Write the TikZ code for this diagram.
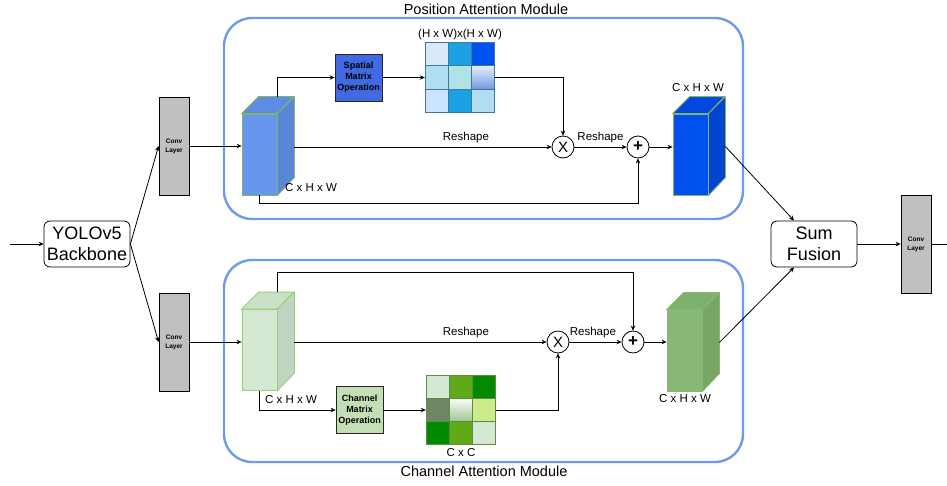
\documentclass[tikz,border=0pt]{standalone}
\usepackage{fontspec}
\setmainfont{Liberation Sans}
\usetikzlibrary{arrows.meta,calc}

\definecolor{modblue}{RGB}{110,155,240}
\definecolor{convgray}{RGB}{192,192,192}
% blue cuboids
\definecolor{cubAfront}{RGB}{102,150,238}
\definecolor{cubAside}{RGB}{90,134,216}
\definecolor{cubAtop}{RGB}{94,140,226}
\definecolor{cubBfront}{RGB}{0,80,239}
\definecolor{cubBside}{RGB}{0,68,208}
\definecolor{cubBtop}{RGB}{0,72,222}
\definecolor{edgegreen}{RGB}{130,179,102}
% green cuboids
\definecolor{cubCfront}{RGB}{213,232,212}
\definecolor{cubCside}{RGB}{192,213,191}
\definecolor{cubCtop}{RGB}{202,224,200}
\definecolor{cubCedge}{RGB}{151,208,119}
\definecolor{cubDfront}{RGB}{136,184,117}
\definecolor{cubDside}{RGB}{119,166,102}
\definecolor{cubDtop}{RGB}{126,176,110}
% operation boxes
\definecolor{spatfill}{RGB}{65,105,225}
\definecolor{chanfill}{RGB}{196,222,182}
% matrix cells
\definecolor{mA1}{RGB}{218,232,252}
\definecolor{mA2}{RGB}{27,161,226}
\definecolor{mA3}{RGB}{0,80,239}
\definecolor{mA4}{RGB}{177,221,240}
\definecolor{mA5}{RGB}{176,227,230}
\definecolor{mA7}{RGB}{204,229,255}
\definecolor{mAedge}{RGB}{60,120,160}
\definecolor{mC1}{RGB}{213,232,212}
\definecolor{mC2}{RGB}{96,169,23}
\definecolor{mC3}{RGB}{0,138,0}
\definecolor{mC4}{RGB}{109,135,100}
\definecolor{mC6}{RGB}{205,235,139}
\definecolor{mCedge}{RGB}{90,140,70}

% a cuboid: front face as a named node, top and side faces behind it
\newcommand{\cuboidbox}[6]{%
  \node[draw=#6, fill=#3, minimum width=35pt, minimum height=81pt,
        inner sep=0pt, line width=0.8pt] (#1) at #2 {};
  \filldraw[draw=#6, fill=#5, line width=0.8pt]
    (#1.north west) -- ++(17,-17) -- ++(35,0) -- (#1.north east) -- cycle;
  \filldraw[draw=#6, fill=#4, line width=0.8pt]
    (#1.north east) -- ++(17,-17) -- ++(0,81) -- (#1.south east) -- cycle;
  \coordinate (#1-top) at ($(#1.north east)+(0,-17)$);
  \coordinate (#1-r) at ($(#1.east)+(17,-8)$);
}

\begin{document}
\begin{tikzpicture}[x=1pt, y=-1pt,
  font=\fontsize{11.5}{13}\selectfont,
  arr/.style={-{Stealth[length=5pt,width=4.5pt]}, line width=0.8pt},
  ln/.style={line width=0.8pt},
  module/.style={draw=modblue, line width=2.4pt, rounded corners=28pt},
  conv/.style={draw=black, fill=convgray, line width=0.8pt, minimum width=30pt,
    minimum height=98pt, inner sep=0pt, align=center,
    font=\fontsize{6.5}{9}\selectfont\bfseries},
  bigbox/.style={draw=black, rounded corners=6pt, line width=0.8pt, fill=white,
    minimum width=86pt, minimum height=46pt, inner sep=0pt, align=center,
    font=\fontsize{18}{21}\selectfont},
  opbox/.style={draw=black!85, line width=0.8pt, minimum width=47pt,
    minimum height=47pt, inner sep=0pt, align=center,
    font=\fontsize{9}{11}\selectfont\bfseries},
  opcirc/.style={circle, draw=black, fill=white, line width=0.8pt,
    minimum size=22pt, inner sep=0pt, font=\fontsize{15}{15}\selectfont},
  matbox/.style={minimum width=70pt, minimum height=70pt, inner sep=0pt},
  title/.style={font=\fontsize{14.5}{16}\selectfont},
  lbl/.style={above=0.5pt},
]
\useasboundingbox (0,0) rectangle (947,485);

% attention modules
\draw[module] (224,18) rectangle (743,219);
\draw[module] (224,260) rectangle (743,462);
\node[title] (ptitle) at (486,9) {Position Attention Module};
\node[title] (ctitle) at (484,471) {Channel Attention Module};

% backbone and conv layers
\node[bigbox] (bb) at (87,244) {YOLOv5\\Backbone};
\node[conv] (conv1) at (174,146) {Conv\\Layer};
\node[conv] (conv2) at (174,342) {Conv\\Layer};
\node[bigbox] (sum) at (814,244) {Sum\\Fusion};
\node[conv] (conv3) at (916,244) {Conv\\Layer};
\coordinate (inp) at (10,244);
\coordinate (outp) at (947,244);

% position attention branch
\cuboidbox{cubA}{(259.5,154.5)}{cubAfront}{cubAside}{cubAtop}{edgegreen}
\cuboidbox{cubB}{(690.5,154.5)}{cubBfront}{cubBside}{cubBtop}{edgegreen}
\node[opbox, fill=spatfill] (spat) at (358.5,77.5) {Spatial\\Matrix\\Operation};
\node[matbox] (matA) at (460,77.5) {};
\node[opcirc] (mulA) at (563,147) {X};
\node[opcirc, font=\fontsize{17}{17}\selectfont\bfseries] (addA) at (638,147) {+};

% channel attention branch
\cuboidbox{cubC}{(259.5,350)}{cubCfront}{cubCside}{cubCtop}{cubCedge}
\cuboidbox{cubD}{(684.5,350.5)}{cubDfront}{cubDside}{cubDtop}{cubDfront}
\node[opbox, fill=chanfill] (chan) at (359.5,410) {Channel\\Matrix\\Operation};
\node[matbox] (matC) at (461,410) {};
\node[opcirc] (mulC) at (558,342) {X};
\node[opcirc, font=\fontsize{17}{17}\selectfont\bfseries] (addC) at (633,342) {+};

% matrix cells of the position branch
\begin{scope}[shift={(matA.north west)}, line width=0.6pt]
  \foreach \c [count=\i from 0] in {mA1,mA2,mA3,mA4,mA5,none,mA7,mA2,mA4} {
    \pgfmathtruncatemacro{\col}{mod(\i,3)}
    \pgfmathtruncatemacro{\row}{div(\i,3)}
    \ifnum\i=5
      \shade[top color=mA1!70!white, bottom color=cubAside!85]
        (\col*23.33,\row*23.33) rectangle ++(23.33,23.33);
    \else
      \fill[\c] (\col*23.33,\row*23.33) rectangle ++(23.33,23.33);
    \fi
    \draw[mAedge] (\col*23.33,\row*23.33) rectangle ++(23.33,23.33);
  }
\end{scope}

% matrix cells of the channel branch
\begin{scope}[shift={(matC.north west)}, line width=0.6pt]
  \foreach \c [count=\i from 0] in {mC1,mC2,mC3,mC4,none,mC6,mC3,mC2,mC1} {
    \pgfmathtruncatemacro{\col}{mod(\i,3)}
    \pgfmathtruncatemacro{\row}{div(\i,3)}
    \ifnum\i=4
      \shade[top color=white!90!mC1, bottom color=cubDfront!80!white]
        (\col*23.33,\row*23.33) rectangle ++(23.33,23.33);
    \else
      \fill[\c] (\col*23.33,\row*23.33) rectangle ++(23.33,23.33);
    \fi
    \draw[mCedge] (\col*23.33,\row*23.33) rectangle ++(23.33,23.33);
  }
\end{scope}

% size labels
\node (lA) at (311,188) {C x H x W};
\node (lB) at (698,88) {C x H x W};
\node (lC) at (291,400) {C x H x W};
\node (lD) at (685,399) {C x H x W};
\node (lmA) at (460,35) {(H x W)x(H x W)};
\node (lmC) at (461,453) {C x C};

% input, backbone and conv connectors
\draw[arr] (inp) -- (bb.west);
\draw[arr] (bb.east) -- (conv1.west);
\draw[arr] (bb.east) -- (conv2.west);
\draw[arr] (conv1.east) -- (conv1.east -| cubA.west);
\draw[arr] (conv2.east) -- (conv2.east -| cubC.west);

% position attention connectors
\draw[arr] (cubA-top) |- (spat.west);
\draw[arr] (spat.east) -- (matA.west);
\draw[arr] (matA.east) -| (mulA.north);
\draw[arr] (mulA.west -| cubA-r) -- node[lbl, pos=0.667] {Reshape} (mulA.west);
\draw[arr] (mulA.east) -- node[lbl, pos=0.5] {Reshape} (addA.west);
\draw[arr] (cubA.south) -- ++(0,8) -| (addA.south);
\draw[arr] (addA.east) -- (addA.east -| cubB.west);

% channel attention connectors
\draw[arr] (cubC-top) -- ++(0,-20) -| (addC.north);
\draw[arr] (mulC.west -| cubC-r) -- node[lbl, pos=0.68] {Reshape} (mulC.west);
\draw[arr] (cubC.south) |- (chan.west);
\draw[arr] (chan.east) -- (matC.west);
\draw[arr] (matC.east) -| (mulC.south);
\draw[arr] (mulC.east) -- node[lbl, pos=0.45] {Reshape} (addC.west);
\draw[arr] (addC.east) -- (addC.east -| cubD.west);

% fusion and output
\coordinate (sumin1) at ($(sum.north)+(-20,0)$);
\coordinate (sumin2) at ($(sum.south)+(-20,0)$);
\draw[arr] (cubB-r) -- (sumin1);
\draw[arr] ($(cubD.east)+(17,-8)$) -- (sumin2);
\draw[arr] (sum.east) -- (conv3.west);
\draw[ln] (conv3.east) -- (outp);
\end{tikzpicture}
\end{document}
